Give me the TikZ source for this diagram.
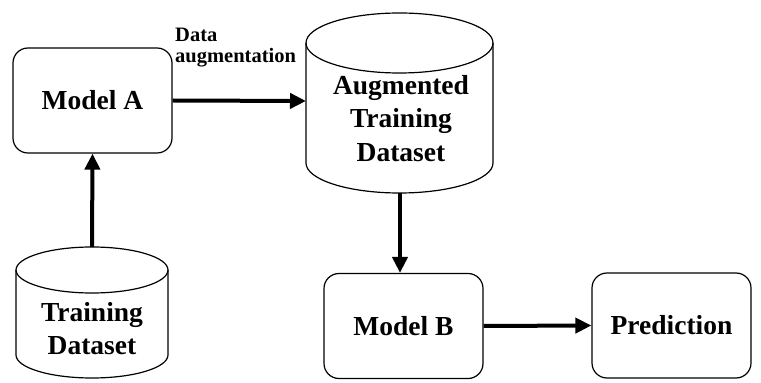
\documentclass[tikz,border=0pt]{standalone}
\usepackage{fontspec}
\setmainfont{Liberation Serif}
\usetikzlibrary{arrows.meta}
\begin{document}
\begin{tikzpicture}[x=1pt,y=1pt,
  box/.style={draw, line width=1.2pt, rounded corners=15pt, minimum width=159pt, minimum height=105pt, inner sep=0pt,
    font=\fontsize{27.5}{33.5}\selectfont\bfseries},
  cyl/.style={draw, line width=1.2pt},
  lbltext/.style={font=\fontsize{27.5}{33.5}\selectfont\bfseries, align=center, inner sep=0pt},
  flow/.style={line width=4pt, -{Triangle[length=16pt,width=15pt]}}
]
\useasboundingbox (0,0) rectangle (761,383);
% Model A
\node[box] (ma) at (92.5,282.5) {Model A};
% Model B
\node[box] (mb) at (403.5,57) {Model B};
% Prediction
\node[box] (pr) at (671.5,57.5) {Prediction};
% Augmented cylinder
\draw[cyl] (306,340) -- (306,220) arc[start angle=180,end angle=360,x radius=93.5,y radius=30] -- (493,340);
\draw[cyl] (399.5,340) ellipse[x radius=93.5,y radius=30];
\node[lbltext] (aug) at (401,264.5) {Augmented\\Training\\Dataset};
\coordinate (augW) at (306,282);
\coordinate (augS) at (400,190);
% Training cylinder
\draw[cyl] (16,113) -- (16,28) arc[start angle=180,end angle=360,x radius=76,y radius=23] -- (168,113);
\draw[cyl] (92,113) ellipse[x radius=76,y radius=23];
\node[lbltext] (tr) at (92,54.5) {Training\\Dataset};
\coordinate (trN) at (92,136);
% label
\node[anchor=south west, inner sep=0pt, align=left, font=\fontsize{20.5}{21}\selectfont\bfseries] (da) at (175,316) {Data\\augmentation};
% connectors
\draw[flow] (ma.east) -- (augW);
\draw[flow] (trN) -- (ma.south);
\draw[flow] (augS) -- (augS |- mb.north);
\draw[flow] (mb.east) -- (pr.west);
\end{tikzpicture}
\end{document}
